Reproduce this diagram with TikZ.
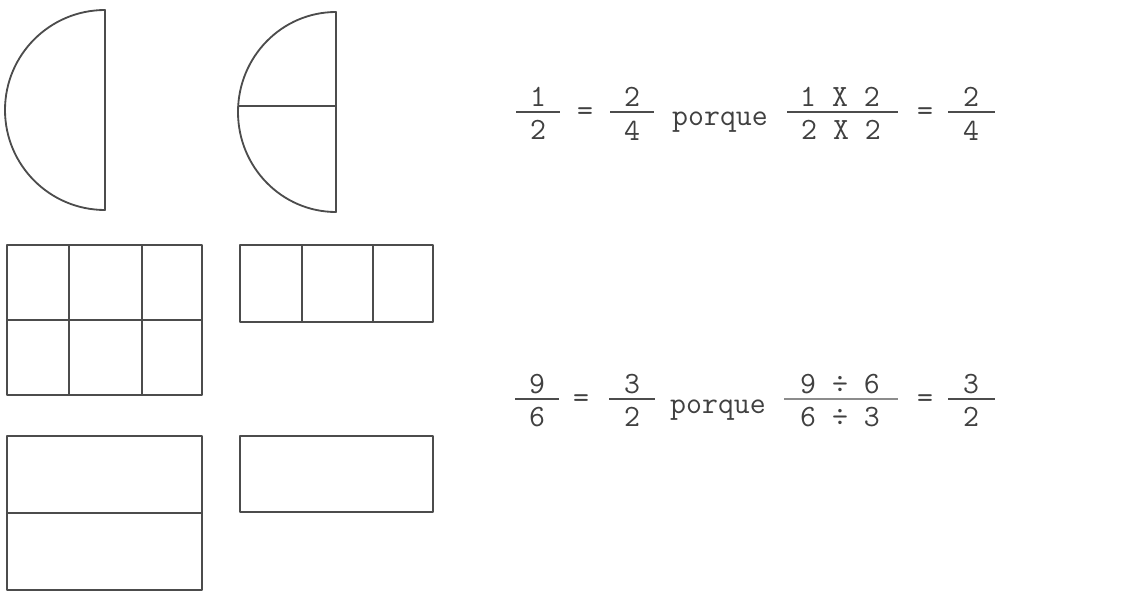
\documentclass[tikz,border=0pt]{standalone}
\usepackage{fontspec}
\usepackage{tikz}
\usetikzlibrary{positioning}

\begin{document}
\begin{tikzpicture}[
    x=0.025cm, y=-0.025cm,
    piece/.style={draw=black!70, line width=1.3pt, line join=round},
    bar/.style={draw=black!70, line width=1.4pt},
    txt/.style={inner sep=0pt, text=black!75, font=\ttfamily\fontsize{22}{24}\selectfont},
    word/.style={txt, anchor=base}
]
    \useasboundingbox (0,0) rectangle (1130,591);

    % Half discs
    \draw[piece] (105,10) arc[start angle=270, end angle=90, x radius=100, y radius=100] -- cycle;
    \draw[piece] (336,12) arc[start angle=270, end angle=90, x radius=98, y radius=100] -- cycle;
    \draw[piece] (238,106) -- (336,106);

    % Rectangles, sixths and thirds
    \draw[piece] (7,245) rectangle (202,395);
    \draw[piece] (7,320) -- (202,320);
    \draw[piece] (69,245) -- (69,395);
    \draw[piece] (142,245) -- (142,395);
    \draw[piece] (240,245) rectangle (433,322);
    \draw[piece] (302,245) -- (302,322);
    \draw[piece] (373,245) -- (373,322);

    % Rectangles, halves and whole
    \draw[piece] (7,436) rectangle (202,590);
    \draw[piece] (7,513) -- (202,513);
    \draw[piece] (240,436) rectangle (433,512);

    % First equation
    \node[txt] (n1) at (538,97) {1};
    \draw[bar] (516,112) -- (560,112);
    \node[txt] (d1) at (538,130) {2};
    \node[txt] (eq1) at (585,114) {=};
    \node[txt] (n2) at (632,97) {2};
    \draw[bar] (610,112) -- (654,112);
    \node[txt] (d2) at (632,131) {4};
    \node[word] (pq1) at (720,126) {porque};
    \node[txt] (n3) at (840,97) {1 X 2};
    \draw[bar] (787,112) -- (898,112);
    \node[txt] (d3) at (841,130) {2 X 2};
    \node[txt] (eq2) at (925,114) {=};
    \node[txt] (n4) at (971,97) {2};
    \draw[bar] (948,112) -- (995,112);
    \node[txt] (d4) at (971,131) {4};

    % Second equation
    \node[txt] (n5) at (537,384) {9};
    \draw[bar] (515,399) -- (559,399);
    \node[txt] (d5) at (537,417) {6};
    \node[txt] (eq3) at (581,401) {=};
    \node[txt] (n6) at (632,384) {3};
    \draw[bar] (609,399) -- (655,399);
    \node[txt] (d6) at (632,417) {2};
    \node[word] (pq2) at (718,413) {porque};
    \node[txt] (n7) at (840,384) {9 ÷ 6};
    \draw[bar, draw=black!45] (784,399) -- (898,399);
    \node[txt] (d7) at (840,417) {6 ÷ 3};
    \node[txt] (eq4) at (925,401) {=};
    \node[txt] (n8) at (971,384) {3};
    \draw[bar] (948,399) -- (995,399);
    \node[txt] (d8) at (971,417) {2};
\end{tikzpicture}
\end{document}
